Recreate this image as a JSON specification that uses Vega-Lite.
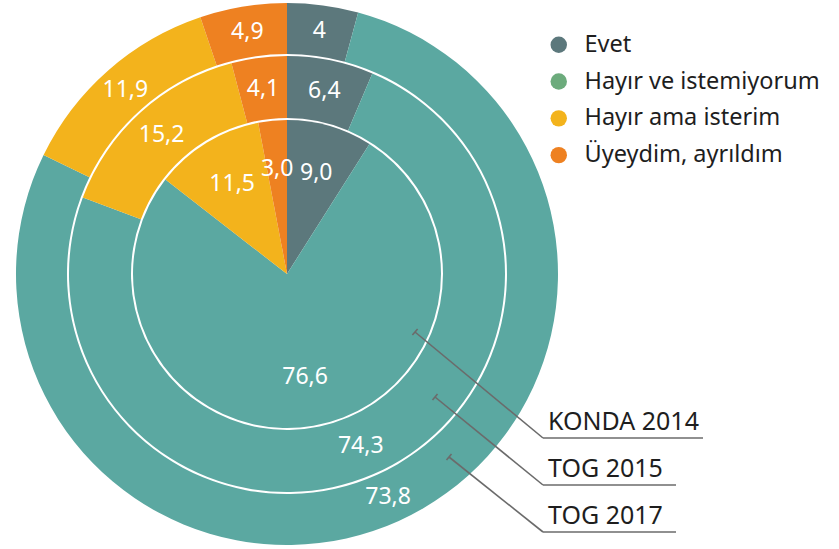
{
  "$schema": "https://vega.github.io/schema/vega-lite/v6.json",
  "width": 839,
  "height": 549,
  "padding": 0,
  "autosize": {"type": "fit", "contains": "padding"},
  "background": "white",
  "config": {"view": {"stroke": null}, "font": "Noto Sans"},
  "datasets": {
    "shares": [
      {"ring": "KONDA 2014", "category": "Evet", "value": 9.0, "label": "9,0"},
      {"ring": "KONDA 2014", "category": "Hayır ve istemiyorum", "value": 76.6, "label": "76,6"},
      {"ring": "KONDA 2014", "category": "Hayır ama isterim", "value": 11.5, "label": "11,5"},
      {"ring": "KONDA 2014", "category": "Üyeydim, ayrıldım", "value": 3.0, "label": "3,0"},
      {"ring": "TOG 2015", "category": "Evet", "value": 6.4, "label": "6,4"},
      {"ring": "TOG 2015", "category": "Hayır ve istemiyorum", "value": 74.3, "label": "74,3"},
      {"ring": "TOG 2015", "category": "Hayır ama isterim", "value": 15.2, "label": "15,2"},
      {"ring": "TOG 2015", "category": "Üyeydim, ayrıldım", "value": 4.1, "label": "4,1"},
      {"ring": "TOG 2017", "category": "Evet", "value": 4, "label": "4"},
      {"ring": "TOG 2017", "category": "Hayır ve istemiyorum", "value": 73.8, "label": "73,8"},
      {"ring": "TOG 2017", "category": "Hayır ama isterim", "value": 11.9, "label": "11,9"},
      {"ring": "TOG 2017", "category": "Üyeydim, ayrıldım", "value": 4.9, "label": "4,9"}
    ],
    "callouts": [
      {"series": "KONDA 2014", "part": "tick", "x": 125.4, "y": 61.1, "x2": 130.6, "y2": 54.9},
      {"series": "KONDA 2014", "part": "leader", "x": 128, "y": 58, "x2": 256, "y2": 164},
      {"series": "KONDA 2014", "part": "base", "x": 256, "y": 164, "x2": 416, "y2": 164},
      {"series": "TOG 2015", "part": "tick", "x": 145.5, "y": 126.1, "x2": 150.5, "y2": 119.9},
      {"series": "TOG 2015", "part": "leader", "x": 148, "y": 123, "x2": 256, "y2": 211},
      {"series": "TOG 2015", "part": "base", "x": 256, "y": 211, "x2": 389, "y2": 211},
      {"series": "TOG 2017", "part": "tick", "x": 159.5, "y": 186.1, "x2": 164.5, "y2": 179.9},
      {"series": "TOG 2017", "part": "leader", "x": 162, "y": 183, "x2": 256, "y2": 258},
      {"series": "TOG 2017", "part": "base", "x": 256, "y": 258, "x2": 389, "y2": 258}
    ]
  },
  "data": {"name": "shares"},
  "transform": [
    {"calculate": "indexof(['Evet','Hayır ve istemiyorum','Hayır ama isterim','Üyeydim, ayrıldım'], datum.category)", "as": "k"}
  ],
  "resolve": {"scale": {"theta": "independent"}},
  "layer": [
    {
      "transform": [{"filter": "datum.ring === 'KONDA 2014'"}],
      "layer": [
        {
          "mark": {"type": "arc", "radius": 154, "radius2": 0},
          "encoding": {
            "x": {"datum": 0, "type": "quantitative", "scale": {"domain": [-287, 552], "nice": false, "zero": false}, "axis": null},
            "y": {"datum": 0, "type": "quantitative", "scale": {"domain": [-274, 275], "nice": false, "zero": false, "reverse": true}, "axis": null},
            "theta": {"field": "value", "type": "quantitative", "stack": true},
            "order": {"field": "k", "type": "quantitative"},
            "color": {
              "field": "category", "type": "nominal",
              "scale": {"domain": ["Evet", "Hayır ve istemiyorum", "Hayır ama isterim", "Üyeydim, ayrıldım"], "range": ["#5c787c", "#5ba8a1", "#f3b31c", "#ee8121"]},
              "legend": null
            }
          }
        },
        {
          "mark": {"type": "point", "filled": true, "opacity": 0},
          "encoding": {
            "x": {"datum": 0, "type": "quantitative"},
            "y": {"datum": 0, "type": "quantitative"},
            "fill": {
              "field": "category", "type": "nominal",
              "sort": {"field": "k", "op": "min"},
              "scale": {"range": ["#5c787c", "#6cab7c", "#f3b31c", "#ee8121"]},
              "legend": {
                "title": null, "orient": "none", "legendX": 547, "legendY": 33,
                "symbolType": "circle", "symbolSize": 270, "symbolStrokeWidth": 0, "symbolOpacity": 1,
                "labelFontSize": 23.5, "labelColor": "#1e1e1e", "labelFont": "Noto Sans",
                "labelOffset": 14, "rowPadding": 11.8, "padding": 0, "labelLimit": 400
              }
            }
          }
        },
        {
          "mark": {"type": "text", "radius": 105, "fontSize": 23, "color": "white", "font": "Noto Sans"},
          "encoding": {
            "x": {"datum": 0, "type": "quantitative"},
            "y": {"datum": 0, "type": "quantitative"},
            "theta": {"field": "value", "type": "quantitative", "stack": true},
            "order": {"field": "k", "type": "quantitative"},
            "detail": {"field": "category"},
            "text": {"field": "label"}
          }
        }
      ]
    },
    {
      "transform": [{"filter": "datum.ring === 'TOG 2015'"}],
      "layer": [
        {
          "mark": {"type": "arc", "radius": 218, "radius2": 156},
          "encoding": {
            "x": {"datum": 0, "type": "quantitative"},
            "y": {"datum": 0, "type": "quantitative"},
            "theta": {"field": "value", "type": "quantitative", "stack": true},
            "order": {"field": "k", "type": "quantitative"},
            "color": {"field": "category", "type": "nominal", "legend": null}
          }
        },
        {
          "mark": {"type": "text", "radius": 187, "fontSize": 23, "color": "white", "font": "Noto Sans"},
          "encoding": {
            "x": {"datum": 0, "type": "quantitative"},
            "y": {"datum": 0, "type": "quantitative"},
            "theta": {"field": "value", "type": "quantitative", "stack": true},
            "order": {"field": "k", "type": "quantitative"},
            "detail": {"field": "category"},
            "text": {"field": "label"}
          }
        }
      ]
    },
    {
      "transform": [{"filter": "datum.ring === 'TOG 2017'"}],
      "layer": [
        {
          "mark": {"type": "arc", "radius": 271, "radius2": 220},
          "encoding": {
            "x": {"datum": 0, "type": "quantitative"},
            "y": {"datum": 0, "type": "quantitative"},
            "theta": {"field": "value", "type": "quantitative", "stack": true},
            "order": {"field": "k", "type": "quantitative"},
            "color": {"field": "category", "type": "nominal", "legend": null}
          }
        },
        {
          "mark": {"type": "text", "radius": 245, "fontSize": 23, "color": "white", "font": "Noto Sans"},
          "encoding": {
            "x": {"datum": 0, "type": "quantitative"},
            "y": {"datum": 0, "type": "quantitative"},
            "theta": {"field": "value", "type": "quantitative", "stack": true},
            "order": {"field": "k", "type": "quantitative"},
            "detail": {"field": "category"},
            "text": {"field": "label"}
          }
        }
      ]
    },
    {
      "data": {"name": "callouts"},
      "mark": {"type": "rule", "color": "#6b6b6b", "strokeWidth": 1.6},
      "encoding": {
        "x": {"field": "x", "type": "quantitative"},
        "y": {"field": "y", "type": "quantitative"},
        "x2": {"field": "x2"},
        "y2": {"field": "y2"}
      }
    },
    {
      "data": {"name": "callouts"},
      "transform": [{"filter": "datum.part === 'base'"}],
      "mark": {"type": "text", "align": "left", "baseline": "alphabetic", "dx": 5, "dy": -8, "fontSize": 25, "color": "#1e1e1e", "font": "Noto Sans"},
      "encoding": {
        "x": {"field": "x", "type": "quantitative"},
        "y": {"field": "y", "type": "quantitative"},
        "text": {"field": "series"}
      }
    }
  ]
}
